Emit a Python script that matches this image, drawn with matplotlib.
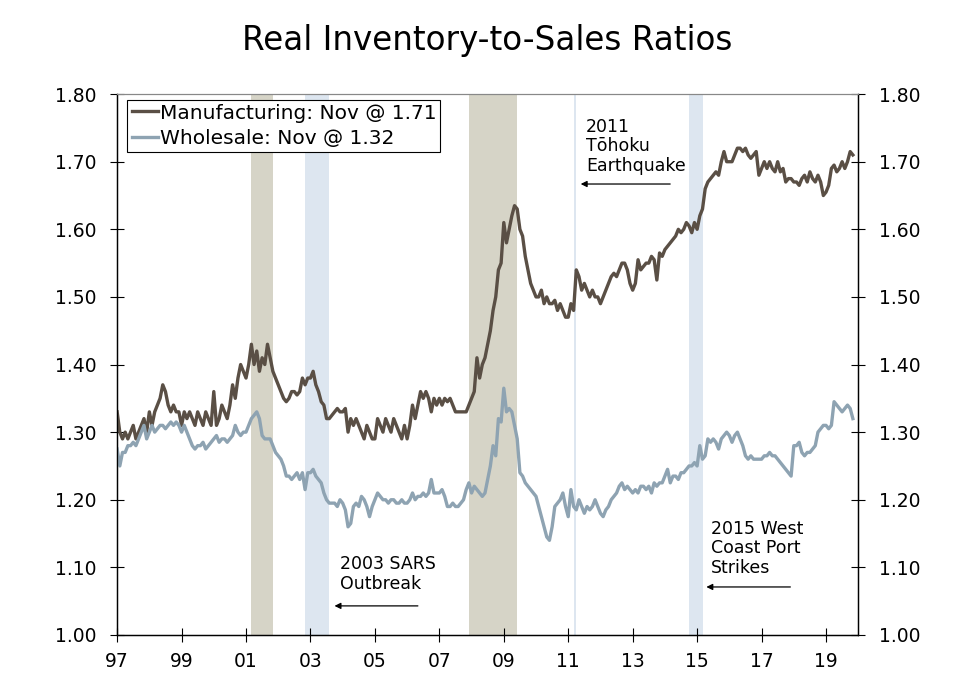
import numpy as np
import matplotlib
matplotlib.use('Agg')
from matplotlib import pyplot as plt

# monthly values, Jan 1997 - Nov 2019
manufacturing = [
    1.33, 1.30, 1.29, 1.30, 1.29, 1.30, 1.31, 1.29, 1.30, 1.31, 1.32, 1.30,    # 1997
    1.33, 1.31, 1.33, 1.34, 1.35, 1.37, 1.36, 1.34, 1.33, 1.34, 1.33, 1.33,    # 1998
    1.31, 1.33, 1.32, 1.33, 1.32, 1.31, 1.33, 1.32, 1.31, 1.33, 1.32, 1.31,    # 1999
    1.36, 1.31, 1.32, 1.34, 1.33, 1.32, 1.34, 1.37, 1.35, 1.38, 1.40, 1.39,    # 2000
    1.38, 1.40, 1.43, 1.40, 1.42, 1.39, 1.41, 1.40, 1.43, 1.41, 1.39, 1.38,    # 2001
    1.37, 1.36, 1.35, 1.345, 1.35, 1.36, 1.36, 1.355, 1.36, 1.38, 1.37, 1.38,  # 2002
    1.38, 1.39, 1.37, 1.36, 1.345, 1.34, 1.32, 1.32, 1.325, 1.33, 1.335, 1.33, # 2003
    1.33, 1.335, 1.30, 1.32, 1.31, 1.32, 1.31, 1.30, 1.29, 1.31, 1.30, 1.29,   # 2004
    1.29, 1.32, 1.31, 1.30, 1.32, 1.31, 1.30, 1.32, 1.31, 1.30, 1.29, 1.31,    # 2005
    1.29, 1.31, 1.34, 1.32, 1.34, 1.36, 1.35, 1.36, 1.35, 1.33, 1.35, 1.34,    # 2006
    1.35, 1.34, 1.35, 1.345, 1.35, 1.34, 1.33, 1.33, 1.33, 1.33, 1.33, 1.34,   # 2007
    1.35, 1.36, 1.41, 1.38, 1.40, 1.41, 1.43, 1.45, 1.48, 1.50, 1.54, 1.55,    # 2008
    1.61, 1.58, 1.60, 1.62, 1.635, 1.63, 1.60, 1.59, 1.56, 1.54, 1.52, 1.51,   # 2009
    1.50, 1.50, 1.51, 1.49, 1.50, 1.49, 1.49, 1.495, 1.48, 1.49, 1.48, 1.47,   # 2010
    1.47, 1.49, 1.48, 1.54, 1.53, 1.51, 1.52, 1.51, 1.50, 1.51, 1.50, 1.50,    # 2011
    1.49, 1.50, 1.51, 1.52, 1.53, 1.535, 1.53, 1.54, 1.55, 1.55, 1.54, 1.52,   # 2012
    1.51, 1.52, 1.555, 1.54, 1.545, 1.55, 1.55, 1.56, 1.555, 1.525, 1.565, 1.56,  # 2013
    1.57, 1.575, 1.58, 1.585, 1.59, 1.60, 1.595, 1.60, 1.61, 1.605, 1.595, 1.61,  # 2014
    1.60, 1.62, 1.63, 1.66, 1.67, 1.675, 1.68, 1.685, 1.68, 1.70, 1.715, 1.70,    # 2015
    1.70, 1.70, 1.71, 1.72, 1.72, 1.715, 1.72, 1.71, 1.705, 1.71, 1.715, 1.68,    # 2016
    1.69, 1.70, 1.69, 1.70, 1.69, 1.685, 1.70, 1.685, 1.69, 1.67, 1.675, 1.675,   # 2017
    1.67, 1.67, 1.665, 1.675, 1.68, 1.67, 1.685, 1.675, 1.67, 1.68, 1.67, 1.65,   # 2018
    1.655, 1.665, 1.69, 1.695, 1.685, 1.69, 1.70, 1.69, 1.70, 1.715, 1.71,        # 2019
]

wholesale = [
    1.275, 1.25, 1.27, 1.27, 1.28, 1.28, 1.285, 1.28, 1.29, 1.30, 1.31, 1.29,     # 1997
    1.30, 1.31, 1.30, 1.305, 1.31, 1.31, 1.305, 1.31, 1.315, 1.31, 1.315, 1.31,   # 1998
    1.30, 1.31, 1.30, 1.29, 1.28, 1.275, 1.28, 1.28, 1.285, 1.275, 1.28, 1.285,   # 1999
    1.29, 1.295, 1.285, 1.29, 1.29, 1.285, 1.29, 1.295, 1.31, 1.30, 1.295, 1.30,  # 2000
    1.30, 1.31, 1.32, 1.325, 1.33, 1.32, 1.295, 1.29, 1.29, 1.29, 1.28, 1.27,     # 2001
    1.265, 1.26, 1.25, 1.235, 1.235, 1.23, 1.235, 1.24, 1.23, 1.24, 1.215, 1.24,  # 2002
    1.24, 1.245, 1.235, 1.23, 1.225, 1.21, 1.20, 1.195, 1.195, 1.195, 1.19, 1.20, # 2003
    1.195, 1.185, 1.16, 1.165, 1.19, 1.195, 1.19, 1.205, 1.20, 1.19, 1.175, 1.19, # 2004
    1.20, 1.21, 1.205, 1.20, 1.20, 1.195, 1.20, 1.20, 1.195, 1.195, 1.20, 1.195,  # 2005
    1.195, 1.20, 1.21, 1.20, 1.205, 1.205, 1.21, 1.205, 1.21, 1.23, 1.21, 1.21,   # 2006
    1.21, 1.215, 1.205, 1.19, 1.19, 1.195, 1.19, 1.19, 1.195, 1.20, 1.215, 1.225, # 2007
    1.21, 1.22, 1.215, 1.21, 1.205, 1.21, 1.23, 1.25, 1.28, 1.265, 1.32, 1.315,   # 2008
    1.365, 1.33, 1.335, 1.33, 1.31, 1.29, 1.24, 1.235, 1.225, 1.22, 1.215, 1.21,  # 2009
    1.205, 1.19, 1.175, 1.16, 1.145, 1.14, 1.16, 1.19, 1.195, 1.20, 1.21, 1.19,   # 2010
    1.175, 1.215, 1.19, 1.185, 1.20, 1.19, 1.18, 1.19, 1.185, 1.19, 1.20, 1.19,   # 2011
    1.18, 1.175, 1.185, 1.19, 1.20, 1.205, 1.21, 1.22, 1.225, 1.215, 1.22, 1.215, # 2012
    1.21, 1.215, 1.21, 1.22, 1.22, 1.215, 1.22, 1.21, 1.225, 1.22, 1.225, 1.225,  # 2013
    1.235, 1.245, 1.225, 1.235, 1.235, 1.23, 1.24, 1.24, 1.245, 1.25, 1.25, 1.255,  # 2014
    1.25, 1.28, 1.26, 1.265, 1.29, 1.285, 1.29, 1.285, 1.275, 1.29, 1.295, 1.30,    # 2015
    1.295, 1.285, 1.295, 1.30, 1.29, 1.28, 1.265, 1.26, 1.265, 1.26, 1.26, 1.26,    # 2016
    1.26, 1.265, 1.265, 1.27, 1.265, 1.265, 1.26, 1.255, 1.25, 1.245, 1.24, 1.235,  # 2017
    1.28, 1.28, 1.285, 1.27, 1.265, 1.27, 1.27, 1.275, 1.28, 1.30, 1.305, 1.31,     # 2018
    1.31, 1.305, 1.31, 1.345, 1.34, 1.335, 1.33, 1.335, 1.34, 1.335, 1.32,          # 2019
]

recessions = [(2001.17, 2001.83), (2007.92, 2009.42)]
events = [(2002.83, 2003.58), (2011.17, 2011.25), (2014.75, 2015.17)]

year_ticks = list(range(1997, 2020, 2))
year_labels = [f"{y % 100:02d}" for y in year_ticks]
y_ticks = np.arange(1.0, 1.81, 0.1)

dates = 1997 + np.arange(len(manufacturing)) / 12.0

MFG_COLOR = '#5a4f45'
WHS_COLOR = '#8ea3b2'

plt.rcParams['font.family'] = ['DejaVu Sans']

fig = plt.figure(figsize=(9.6, 6.97), dpi=100)
ax = fig.add_axes([0.122, 0.089, 0.772, 0.776])

for a, b in recessions:
    ax.axvspan(a, b, color='#d6d4c7', lw=0, zorder=0)
for a, b in events:
    ax.axvspan(a, b, color='#dde6f0', lw=0, zorder=0)

ax.plot(dates, manufacturing, color=MFG_COLOR, lw=2.4,
        label='Manufacturing: Nov @ 1.71', zorder=3)
ax.plot(dates, wholesale, color=WHS_COLOR, lw=2.4,
        label='Wholesale: Nov @ 1.32', zorder=3)

ax.set_xlim(1997, 2020)
ax.set_ylim(1.0, 1.8)
ax.set_xticks(year_ticks)
ax.set_xticklabels(year_labels)
ax.set_yticks(y_ticks)
ax.set_yticklabels([f"{v:.2f}" for v in y_ticks])
ax.tick_params(direction='inout', length=10, width=0.8, labelsize=13.5, colors='black')
ax.tick_params(axis='y', pad=10)
ax.tick_params(axis='x', pad=7)

ax2 = ax.twinx()
ax2.set_ylim(1.0, 1.8)
ax2.set_yticks(y_ticks)
ax2.set_yticklabels([f"{v:.2f}" for v in y_ticks])
ax2.tick_params(direction='inout', length=10, width=0.8, labelsize=13.5, pad=10)

for a in (ax, ax2):
    a.spines['top'].set_color('#888888')
    a.spines['top'].set_linewidth(0.8)
    for s in ('left', 'right', 'bottom'):
        a.spines[s].set_linewidth(0.9)

leg = ax.legend(loc='upper left', bbox_to_anchor=(0.014, 0.99), fontsize=14.5,
                handlelength=1.3, handletextpad=0.1, borderpad=0.2,
                labelspacing=0.3, fancybox=False, framealpha=1, borderaxespad=0)
leg.get_frame().set_edgecolor('black')
leg.get_frame().set_linewidth(0.8)

arrow = dict(arrowstyle='-|>', color='black', lw=0.9, mutation_scale=9)
ax.text(2011.55, 1.765, '2011\nTōhoku\nEarthquake', fontsize=12.5, va='top',
        ha='left', linespacing=1.1)
ax.annotate('', xy=(2011.3, 1.667), xytext=(2014.25, 1.667), arrowprops=arrow)

ax.text(2003.93, 1.118, '2003 SARS\nOutbreak', fontsize=12.5, va='top',
        ha='left', linespacing=1.1)
ax.annotate('', xy=(2003.66, 1.043), xytext=(2006.42, 1.043), arrowprops=arrow)

ax.text(2015.43, 1.170, '2015 West\nCoast Port\nStrikes', fontsize=12.5, va='top',
        ha='left', linespacing=1.1)
ax.annotate('', xy=(2015.2, 1.071), xytext=(2017.98, 1.071), arrowprops=arrow)

fig.text(0.507, 0.942, 'Real Inventory-to-Sales Ratios', fontsize=23.5,
         ha='center', va='center')

fig.savefig('out.png', dpi=100)
